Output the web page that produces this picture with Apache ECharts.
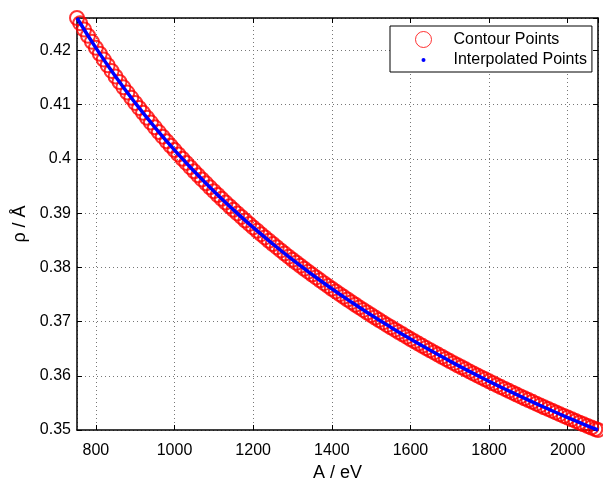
<!DOCTYPE html>
<html>
<head>
<meta charset="utf-8">
<script src="https://cdn.jsdelivr.net/npm/echarts@6/dist/echarts.min.js"></script>
<style>
    html, body { margin: 0; padding: 0; background: #fff; }
    #chart { width: 603px; height: 481px; }
</style>
</head>
<body>
<div id="chart"></div>
<script>
// contour points (A in eV, rho in Angstrom)
let contourA = [752, 760, 770, 780, 790, 800, 810, 820, 830, 840,
    850, 860, 870, 880, 890, 900, 910, 920, 930, 940,
    950, 960, 970, 980, 990, 1000, 1010, 1020, 1030, 1040,
    1050, 1060, 1070, 1080, 1090, 1100, 1110, 1120, 1130, 1140,
    1150, 1160, 1170, 1180, 1190, 1200, 1210, 1220, 1230, 1240,
    1250, 1260, 1270, 1280, 1290, 1300, 1310, 1320, 1330, 1340,
    1350, 1360, 1370, 1380, 1390, 1400, 1410, 1420, 1430, 1440,
    1450, 1460, 1470, 1480, 1490, 1500, 1510, 1520, 1530, 1540,
    1550, 1560, 1570, 1580, 1590, 1600, 1610, 1620, 1630, 1640,
    1650, 1660, 1670, 1680, 1690, 1700, 1710, 1720, 1730, 1740,
    1750, 1760, 1770, 1780, 1790, 1800, 1810, 1820, 1830, 1840,
    1850, 1860, 1870, 1880, 1890, 1900, 1910, 1920, 1930, 1940,
    1950, 1960, 1970, 1980, 1990, 2000, 2010, 2020, 2030, 2040,
    2050, 2060, 2070, 2077]
let contourRho = [0.42600, 0.42505, 0.42388, 0.42273, 0.42160, 0.42049, 0.41940, 0.41833, 0.41728, 0.41624,
    0.41521, 0.41420, 0.41321, 0.41224, 0.41128, 0.41034, 0.40941, 0.40850, 0.40760, 0.40671,
    0.40583, 0.40496, 0.40411, 0.40327, 0.40244, 0.40163, 0.40083, 0.40004, 0.39926, 0.39849,
    0.39772, 0.39697, 0.39623, 0.39550, 0.39477, 0.39405, 0.39335, 0.39265, 0.39196, 0.39128,
    0.39061, 0.38995, 0.38930, 0.38865, 0.38801, 0.38737, 0.38675, 0.38613, 0.38552, 0.38491,
    0.38431, 0.38372, 0.38313, 0.38255, 0.38198, 0.38141, 0.38085, 0.38030, 0.37975, 0.37921,
    0.37867, 0.37814, 0.37761, 0.37709, 0.37657, 0.37606, 0.37556, 0.37506, 0.37456, 0.37407,
    0.37358, 0.37310, 0.37262, 0.37215, 0.37168, 0.37121, 0.37075, 0.37029, 0.36984, 0.36939,
    0.36895, 0.36851, 0.36807, 0.36764, 0.36721, 0.36678, 0.36636, 0.36594, 0.36553, 0.36512,
    0.36471, 0.36431, 0.36391, 0.36351, 0.36311, 0.36272, 0.36233, 0.36195, 0.36157, 0.36119,
    0.36081, 0.36044, 0.36007, 0.35970, 0.35934, 0.35898, 0.35862, 0.35827, 0.35792, 0.35757,
    0.35722, 0.35688, 0.35654, 0.35620, 0.35586, 0.35552, 0.35519, 0.35486, 0.35453, 0.35420,
    0.35388, 0.35356, 0.35324, 0.35292, 0.35260, 0.35229, 0.35198, 0.35167, 0.35136, 0.35106,
    0.35076, 0.35046, 0.35017, 0.35000]

// interpolated points
let interpA = [752, 800, 850, 900, 950, 1000, 1050, 1100, 1150, 1200,
    1250, 1300, 1350, 1400, 1450, 1500, 1550, 1600, 1650, 1700,
    1750, 1800, 1850, 1900, 1950, 2000, 2050, 2077]
let interpRho = [0.42600, 0.42049, 0.41521, 0.41034, 0.40583, 0.40163, 0.39772, 0.39405, 0.39061, 0.38737,
    0.38431, 0.38141, 0.37867, 0.37606, 0.37358, 0.37121, 0.36895, 0.36678, 0.36471, 0.36272,
    0.36081, 0.35898, 0.35722, 0.35552, 0.35388, 0.35229, 0.35076, 0.35000]

let xMin = 752
let xMax = 2077
let yMin = 0.35
let yMax = 0.426

const font = "'Liberation Sans', Arial, sans-serif"

const pairs = (xs, ys) => xs.map((x, i) => [x, ys[i]])

const frameAxis = (extra) => Object.assign({
    axisLine: {
        show: true,
        onZero: false,
        lineStyle: { color: '#000', width: 1.5 }
    },
    axisTick: {
        show: true,
        inside: true,
        length: 5,
        lineStyle: { color: '#000', width: 1 }
    },
    axisLabel: { show: false },
    splitLine: { show: false }
}, extra)

let EC = echarts.init(document.getElementById('chart'))
let option = {
    backgroundColor: '#fff',
    animation: false,
    textStyle: { fontFamily: font },
    grid: {
        left: 77,
        right: 5,
        top: 18,
        bottom: 51,
        containLabel: false,
        outerBoundsMode: 'none'
    },
    legend: {
        orient: 'vertical',
        left: 390,
        top: 26,
        padding: [5, 5, 4, 25],
        itemWidth: 50,
        itemHeight: 16,
        itemGap: 4,
        backgroundColor: '#fff',
        borderColor: '#000',
        borderWidth: 1,
        borderRadius: 0,
        textStyle: {
            fontSize: 16,
            color: '#000',
            fontFamily: font
        },
        data: [
            {
                name: 'Contour Points',
                icon: 'circle',
                itemStyle: {
                    color: 'rgba(0,0,0,0)',
                    borderColor: '#ff0000',
                    borderWidth: 1
                }
            },
            {
                name: 'Interpolated Points',
                icon: 'path://M0,0L0,0M16,16L16,16M8,6A2,2,0,1,1,8,10A2,2,0,1,1,8,6Z',
                itemStyle: {
                    color: '#0000ff',
                    borderWidth: 0
                }
            }
        ]
    },
    xAxis: [
        frameAxis({
            type: 'value',
            position: 'bottom',
            min: xMin,
            max: xMax,
            minInterval: 200,
            maxInterval: 200,
            name: 'A / eV',
            nameLocation: 'middle',
            nameGap: 29,
            nameTextStyle: { fontSize: 18, color: '#000', fontFamily: font },
            axisLabel: {
                show: true,
                margin: 13,
                fontSize: 16,
                color: '#000',
                fontFamily: font,
                showMinLabel: false,
                showMaxLabel: false,
                formatter: v => String(v)
            },
            splitLine: {
                show: true,
                lineStyle: { color: '#777', width: 1, type: [1, 3] }
            }
        }),
        frameAxis({
            type: 'value',
            position: 'top',
            min: xMin,
            max: xMax,
            minInterval: 200,
            maxInterval: 200
        })
    ],
    yAxis: [
        frameAxis({
            type: 'value',
            position: 'left',
            min: yMin,
            max: yMax,
            interval: 0.01,
            name: 'ρ / Å',
            nameLocation: 'middle',
            nameGap: 47,
            nameTextStyle: { fontSize: 18, color: '#000', fontFamily: font },
            axisLabel: {
                show: true,
                margin: 6,
                fontSize: 16,
                color: '#000',
                fontFamily: font,
                showMaxLabel: false
            },
            splitLine: {
                show: true,
                lineStyle: { color: '#777', width: 1, type: [1, 3] }
            }
        }),
        frameAxis({
            type: 'value',
            position: 'right',
            min: yMin,
            max: yMax,
            interval: 0.01
        })
    ],
    series: [
        {
            name: 'Contour Points',
            type: 'scatter',
            xAxisIndex: 0,
            yAxisIndex: 0,
            clip: false,
            symbol: 'circle',
            symbolSize: 14,
            itemStyle: {
                color: 'rgba(0,0,0,0)',
                borderColor: '#ff0000',
                borderWidth: 2
            },
            data: pairs(contourA, contourRho)
        },
        {
            name: 'Interpolated Points',
            type: 'line',
            xAxisIndex: 0,
            yAxisIndex: 0,
            clip: false,
            smooth: true,
            showSymbol: false,
            lineStyle: { color: '#0000ff', width: 3.5 },
            itemStyle: { color: '#0000ff' },
            data: pairs(interpA, interpRho)
        }
    ]
}
EC.setOption(option)
</script>
</body>
</html>
